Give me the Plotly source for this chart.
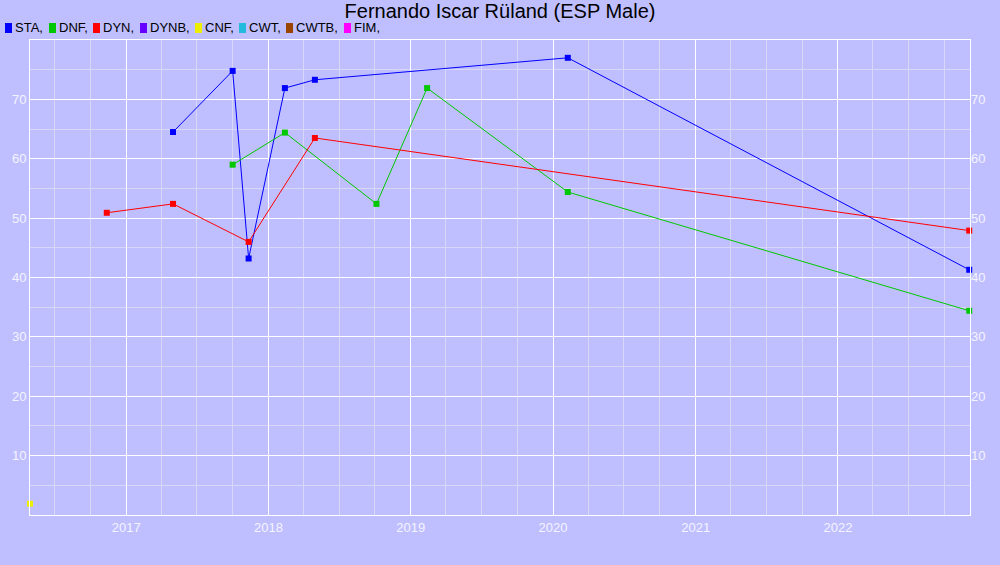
import plotly.graph_objects as go

title = "Fernando Iscar Rüland (ESP Male)"

sta_dates = ["2017-05-01", "2017-10-01", "2017-11-11", "2018-02-12", "2018-04-30", "2020-02-08", "2022-12-04"]
sta_vals = [64.5, 74.8, 43.2, 71.9, 73.3, 77.0, 41.3]

dnf_dates = ["2017-10-01", "2018-02-12", "2018-10-05", "2019-02-12", "2020-02-08", "2022-12-04"]
dnf_vals = [59.0, 64.4, 52.4, 71.9, 54.4, 34.4]

dyn_dates = ["2016-11-12", "2017-05-01", "2017-11-11", "2018-04-30", "2022-12-04"]
dyn_vals = [50.9, 52.4, 46.0, 63.5, 47.9]

cnf_dates = ["2016-04-29"]
cnf_vals = [1.9]

legend_names = ["STA", "DNF", "DYN", "DYNB", "CNF", "CWT", "CWTB", "FIM"]
legend_colors = ["#0000FF", "#00C800", "#FF0000", "#6600FF", "#EEEE00", "#22BBDD", "#994400", "#FF00FF"]

y_ticks = [10, 20, 30, 40, 50, 60, 70]

W, H = 1000, 565
ML, MR, MT, MB = 30, 30, 40, 50
PW, PH = W - ML - MR, H - MT - MB


def px_x(px):
    return (px - ML) / PW


def px_y(py):
    return (H - MB - py) / PH


fig = go.Figure()

series = [
    ("STA", sta_dates, sta_vals, "#0000FF"),
    ("DNF", dnf_dates, dnf_vals, "#00C800"),
    ("DYN", dyn_dates, dyn_vals, "#FF0000"),
    ("CNF", cnf_dates, cnf_vals, "#EEEE00"),
]
for name, xs, ys, col in series:
    fig.add_trace(go.Scatter(
        x=xs, y=ys, mode="lines+markers", name=name,
        line=dict(color=col, width=1),
        marker=dict(symbol="square", size=6, color=col),
        showlegend=False, cliponaxis=False,
    ))

# invisible trace for right axis
fig.add_trace(go.Scatter(x=[sta_dates[0]], y=[sta_vals[0]], yaxis="y2",
                         mode="markers", marker=dict(opacity=0), showlegend=False,
                         hoverinfo="skip"))

# custom legend: coloured box + text, placed like the reference
box_left = [5, 49, 93, 140, 195, 239, 286, 344]
legend_font = dict(size=13, color="#000000", family="Liberation Sans, Arial, sans-serif")
for name, col, bx in zip(legend_names, legend_colors, box_left):
    fig.add_shape(type="rect", xref="paper", yref="paper",
                  x0=px_x(bx), x1=px_x(bx + 7), y0=px_y(33), y1=px_y(23),
                  fillcolor=col, line=dict(width=0), layer="above")
    fig.add_annotation(text=name + ",", xref="paper", yref="paper",
                       x=px_x(bx + 8), y=px_y(28), xanchor="left", yanchor="middle",
                       showarrow=False, font=legend_font)

tick_font = dict(size=13, color="#F4F4FF", family="Liberation Sans, Arial, sans-serif")
minor_grid = "#D8D8F6"

fig.update_layout(
    width=W, height=H,
    paper_bgcolor="#BFBFFF", plot_bgcolor="#BFBFFF",
    margin=dict(l=ML, r=MR, t=MT, b=MB, autoexpand=False),
    title=dict(text=title, x=0.5, xanchor="center", y=1 - 11 / H, yanchor="middle",
               font=dict(size=20, color="#000000", family="Liberation Sans, Arial, sans-serif")),
    xaxis=dict(
        type="date", range=["2016-04-29", "2022-12-06"],
        tick0="2017-01-01", dtick="M12", tickformat="%Y",
        showgrid=True, gridcolor="#FFFFFF", gridwidth=1,
        minor=dict(dtick="M3", tick0="2017-01-01", showgrid=True, gridcolor=minor_grid, gridwidth=1),
        showline=True, linecolor="#FFFFFF", linewidth=1, mirror=True,
        ticks="", tickfont=tick_font, zeroline=False,
    ),
    yaxis=dict(
        range=[0, 80], tickmode="array", tickvals=y_ticks,
        showgrid=True, gridcolor="#FFFFFF", gridwidth=1,
        minor=dict(tickmode="linear", tick0=5, dtick=10, showgrid=True, gridcolor=minor_grid, gridwidth=1),
        showline=True, linecolor="#FFFFFF", linewidth=1, mirror=True,
        ticks="", tickfont=tick_font, zeroline=False,
    ),
    yaxis2=dict(
        range=[0, 80], tickmode="array", tickvals=y_ticks,
        overlaying="y", side="right", showgrid=False, zeroline=False,
        ticks="", tickfont=tick_font, showline=False,
    ),
)

fig.write_html("out.html", config={"displayModeBar": False},
               post_script="document.body.style.margin='0';document.body.style.background='#BFBFFF';")
